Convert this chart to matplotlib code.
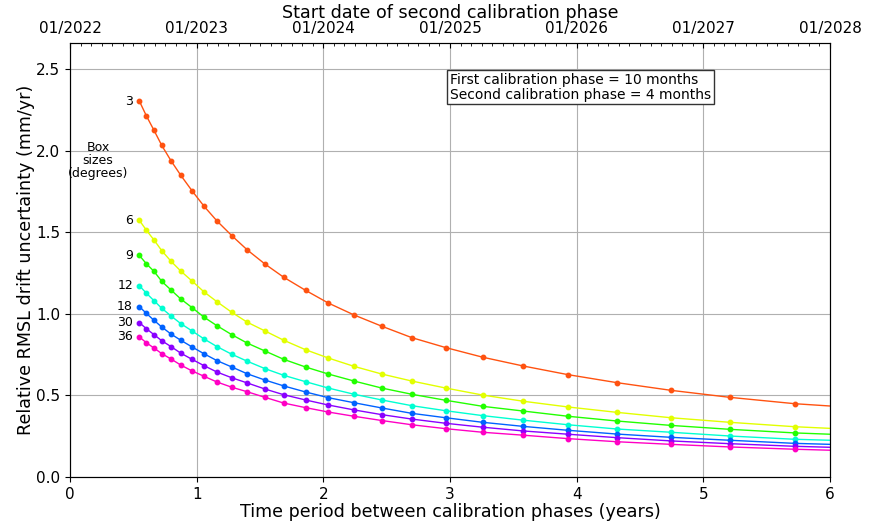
import numpy as np
import matplotlib
matplotlib.use('Agg')
import matplotlib.pyplot as plt
from matplotlib.ticker import MultipleLocator, FormatStrFormatter

# time between calibration phases (years), where the dots sit
t = [0.547, 0.602, 0.663, 0.724, 0.797, 0.874, 0.963, 1.058, 1.160, 1.277,
     1.400, 1.539, 1.687, 1.859, 2.039, 2.242, 2.461, 2.698, 2.966, 3.258,
     3.579, 3.932, 4.318, 4.745, 5.210, 5.723]
t_end = 6.0

box_sizes = ['3', '6', '9', '12', '18', '30', '36']
colours = ['#ff5210', '#e2ff00', '#22ff00', '#00ffd2', '#0062ff', '#8a00ff', '#ff00c4']

drift = {
    '3':  [2.304, 2.214, 2.124, 2.032, 1.938, 1.849, 1.754, 1.659, 1.569, 1.479,
           1.391, 1.305, 1.224, 1.144, 1.066, 0.993, 0.924, 0.854, 0.793, 0.734,
           0.680, 0.627, 0.578, 0.531, 0.488, 0.449],
    '6':  [1.573, 1.513, 1.452, 1.387, 1.322, 1.262, 1.201, 1.134, 1.074, 1.009,
           0.948, 0.895, 0.838, 0.780, 0.729, 0.678, 0.631, 0.588, 0.545, 0.502,
           0.464, 0.429, 0.396, 0.363, 0.335, 0.308],
    '9':  [1.358, 1.307, 1.260, 1.199, 1.146, 1.091, 1.038, 0.979, 0.927, 0.872,
           0.820, 0.772, 0.721, 0.674, 0.631, 0.588, 0.545, 0.507, 0.470, 0.433,
           0.404, 0.372, 0.343, 0.316, 0.292, 0.270],
    '12': [1.172, 1.127, 1.080, 1.034, 0.987, 0.940, 0.895, 0.846, 0.799, 0.752,
           0.709, 0.664, 0.623, 0.584, 0.545, 0.507, 0.472, 0.437, 0.406, 0.376,
           0.348, 0.320, 0.294, 0.274, 0.251, 0.231],
    '18': [1.044, 1.003, 0.960, 0.919, 0.876, 0.838, 0.797, 0.755, 0.713, 0.674,
           0.632, 0.594, 0.558, 0.521, 0.486, 0.455, 0.423, 0.390, 0.363, 0.335,
           0.310, 0.286, 0.263, 0.243, 0.225, 0.206],
    '30': [0.946, 0.909, 0.872, 0.835, 0.799, 0.759, 0.721, 0.682, 0.643, 0.608,
           0.576, 0.539, 0.504, 0.472, 0.441, 0.411, 0.382, 0.355, 0.329, 0.305,
           0.282, 0.262, 0.241, 0.221, 0.204, 0.188],
    '36': [0.858, 0.823, 0.790, 0.756, 0.723, 0.686, 0.650, 0.617, 0.582, 0.550,
           0.522, 0.488, 0.453, 0.425, 0.398, 0.372, 0.346, 0.320, 0.296, 0.274,
           0.256, 0.235, 0.216, 0.200, 0.184, 0.170],
}
# where each line meets the right edge (x = 6)
drift_end = {'3': 0.435, '6': 0.298, '9': 0.262, '12': 0.225,
             '18': 0.200, '30': 0.182, '36': 0.164}

years = ['01/2022', '01/2023', '01/2024', '01/2025', '01/2026', '01/2027', '01/2028']

fig = plt.figure(figsize=(8.76, 5.21), dpi=100)
ax = fig.add_axes([0.080, 0.0845, 0.8675, 0.833])

for b, c in zip(box_sizes, colours):
    y = drift[b]
    ax.plot(t + [t_end], y + [drift_end[b]], '-', color=c, lw=1.0)
    ax.plot(t, y, 'o', color=c, ms=3.2, mec=c)
    ax.text(t[0] - 0.05, y[0], b, ha='right', va='center', fontsize=9)

ax.text(0.22, 1.94, 'Box\nsizes\n(degrees)', ha='center', va='center',
        fontsize=9, linespacing=1.0)
ax.text(3.0, 2.475, 'First calibration phase = 10 months\nSecond calibration phase = 4 months',
        ha='left', va='top', fontsize=10, linespacing=1.05,
        bbox=dict(boxstyle='square,pad=0.2', fc='white', ec='#333333', lw=1))

ax.set_xlim(0, 6)
ax.set_ylim(0, 2.66)
ax.yaxis.set_major_locator(MultipleLocator(0.5))
ax.yaxis.set_major_formatter(FormatStrFormatter('%.1f'))
ax.grid(True, color='#b0b0b0', lw=0.8)
ax.set_axisbelow(True)
ax.tick_params(labelsize=11)
ax.set_xlabel('Time period between calibration phases (years)', fontsize=12.6, labelpad=1)
ax.set_ylabel('Relative RMSL drift uncertainty (mm/yr)', fontsize=12.6, labelpad=1)
for s in ax.spines.values():
    s.set_color('#444444')

top = ax.twiny()
top.set_xlim(0, 6)
top.set_xticks(range(7))
top.set_xticklabels(years)
top.xaxis.set_minor_locator(MultipleLocator(1 / 12))
top.tick_params(which='both', direction='in', labelsize=11, pad=5)
top.tick_params(which='minor', length=2.5)
top.set_xlabel('Start date of second calibration phase', fontsize=12.6, labelpad=2)

plt.savefig('out.png', dpi=100)
